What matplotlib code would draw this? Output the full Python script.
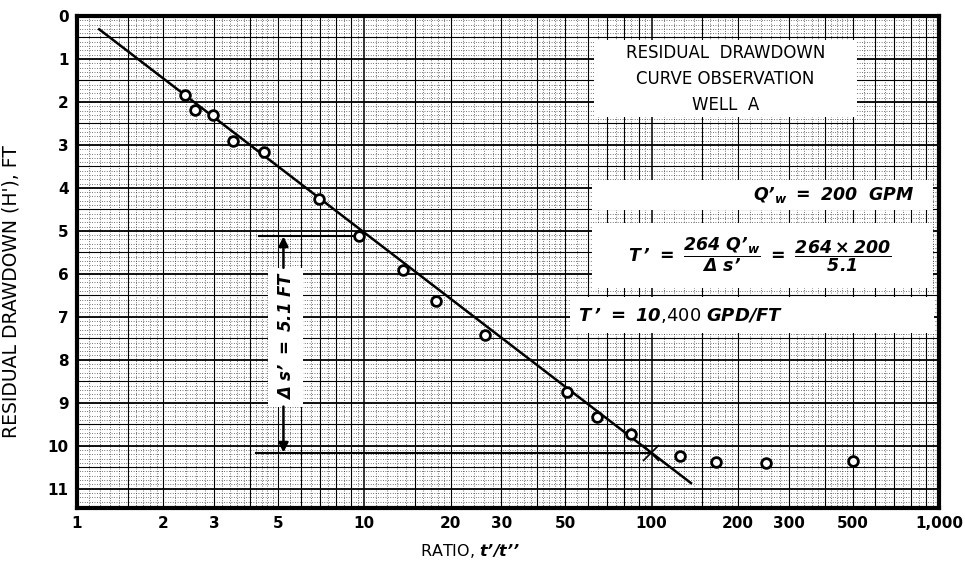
import numpy as np
import matplotlib
matplotlib.use("Agg")
import matplotlib.pyplot as plt
from matplotlib.patches import Rectangle

plt.rcParams['font.family'] = ['DejaVu Sans']
plt.rcParams['mathtext.fontset'] = 'custom'
plt.rcParams['mathtext.rm'] = 'DejaVu Sans:italic:bold'
plt.rcParams['mathtext.it'] = 'DejaVu Sans:italic:bold'
plt.rcParams['mathtext.bf'] = 'DejaVu Sans:italic:bold'

# observed residual drawdown vs t'/t''
ratio = [2.37, 2.57, 2.97, 3.50, 4.47, 6.94, 9.6, 13.6, 17.8, 26.3,
         50.8, 64.4, 84.6, 125, 168, 249, 501]
drawdown = [1.85, 2.19, 2.30, 2.92, 3.17, 4.26, 5.13, 5.90, 6.63, 7.43,
            8.75, 9.34, 9.73, 10.25, 10.37, 10.41, 10.36]

# straight line fitted through the early points
fit_x = [1.195, 137]
fit_y = [0.31, 10.87]

# delta s' construction (one log cycle: 10 -> 100)
ds_x = 5.23
ds_top, ds_bot = 5.13, 10.16
ds_top_x = [4.3, 9.2]
ds_bot_x = [4.2, 99.8]

xticks = [1, 2, 3, 5, 10, 20, 30, 50, 100, 200, 300, 500, 1000]
xticklabels = ['1', '2', '3', '5', '10', '20', '30', '50', '100', '200', '300', '500', '1,000']
yticks = list(range(12))

Q = "\u2019"  # apostrophe that mathtext leaves alone

fig = plt.figure(figsize=(9.65, 5.68), dpi=100)
ax = fig.add_axes([77 / 965, 60 / 568, 862 / 965, 492 / 568])
ax.set_xscale('log')
ax.set_xlim(1, 1000)
ax.set_ylim(11.45, 0)

# graph-paper grid
dots = (0, (1, 2.2))
dc = '#222222'
for dec in [1, 10, 100]:
    fine = list(np.arange(1.1, 2, 0.1)) + list(np.arange(2.2, 5, 0.2)) + list(np.arange(5.5, 10, 0.5))
    for v in fine:
        ax.axvline(v * dec, color=dc, lw=0.55, ls=dots, zorder=0)
    for v in list(range(2, 10)) + [1.5]:
        ax.axvline(v * dec, color='k', lw=0.8, zorder=0.5)
    ax.axvline(dec, color='k', lw=1.1, zorder=0.5)
for v in np.arange(0, 11.5, 0.1):
    ax.axhline(v, color=dc, lw=0.55, ls=dots, zorder=0)
for v in np.arange(0.5, 11.5, 1.0):
    ax.axhline(v, color='k', lw=0.8, zorder=0.5)
for v in range(1, 12):
    ax.axhline(v, color='k', lw=1.3, zorder=0.5)

for s in ax.spines.values():
    s.set_linewidth(3)

ax.set_xticks(xticks)
ax.set_xticklabels(xticklabels)
ax.set_xticks([], minor=True)
ax.set_yticks(yticks)
ax.tick_params(length=0, pad=6, labelsize=11)
for lab in ax.get_xticklabels() + ax.get_yticklabels():
    lab.set_fontweight('bold')

ax.set_ylabel("RESIDUAL DRAWDOWN (H'), FT", fontsize=13.5)
ax.yaxis.set_label_coords(-0.066, 0.44)
ax.set_xlabel("RATIO, $t" + Q + "/t" + Q + Q + "$", fontsize=11.5)
ax.xaxis.set_label_coords(0.456, -0.07)

# white label boxes
def wbox(x0, y0, x1, y1):
    ax.add_patch(Rectangle((x0, y0), x1 - x0, y1 - y0, transform=ax.transAxes,
                           facecolor='white', edgecolor='none', zorder=2))

wbox(0.600, 0.795, 0.905, 0.951)
wbox(0.597, 0.606, 0.993, 0.667)
wbox(0.597, 0.447, 0.993, 0.579)
wbox(0.572, 0.356, 0.994, 0.429)
wbox(0.2216, 0.205, 0.262, 0.488)

ax.text(0.752, 0.872, "RESIDUAL  DRAWDOWN\nCURVE OBSERVATION\nWELL  A", transform=ax.transAxes,
        ha='center', va='center', fontsize=12, linespacing=1.6, zorder=3)
ax.text(0.972, 0.636, "$Q" + Q + "_{w}\\ =\\ 200\\ \\ GPM$", transform=ax.transAxes,
        ha='right', va='center', fontsize=12.5, zorder=3)
ax.text(0.792, 0.514,
        "$T\\," + Q + "\\ =\\ \\dfrac{264\\ Q" + Q + "_{w}}{\\Delta\\ s" + Q + "}\\ =\\ \\dfrac{264\\times200}{5.1}$",
        transform=ax.transAxes, ha='center', va='center', fontsize=12.5, zorder=3)
ax.text(0.581, 0.392, "$T\\," + Q + "\\ =\\ 10$,400 $GPD/FT$", transform=ax.transAxes,
        ha='left', va='center', fontsize=13, zorder=3)
ax.text(0.242, 0.352, "$\\Delta\\ s" + Q + "\\ =\\ 5.1\\ FT$", transform=ax.transAxes, rotation=90,
        ha='center', va='center', fontsize=12, zorder=3)

# fitted line and observations
ax.plot(fit_x, fit_y, color='k', lw=1.8, zorder=4)
ax.plot(ratio, drawdown, 'o', ms=7, mfc='white', mec='k', mew=2, zorder=5)

# delta s' construction lines
ax.plot(ds_top_x, [ds_top, ds_top], color='k', lw=1.5, zorder=4)
ax.plot(ds_bot_x, [ds_bot, ds_bot], color='k', lw=1.5, zorder=4)
ax.annotate('', xy=(ds_x, ds_top), xytext=(ds_x, 5.86),
            arrowprops=dict(arrowstyle='-|>', color='k', lw=1.8, mutation_scale=14, shrinkA=0, shrinkB=0), zorder=4)
ax.annotate('', xy=(ds_x, ds_bot), xytext=(ds_x, 9.09),
            arrowprops=dict(arrowstyle='-|>', color='k', lw=1.8, mutation_scale=14, shrinkA=0, shrinkB=0), zorder=4)
ax.plot([ds_bot_x[1]], [ds_bot], marker='x', ms=11, mew=1.2, color='k', zorder=4)

fig.savefig("out.png", dpi=100)
